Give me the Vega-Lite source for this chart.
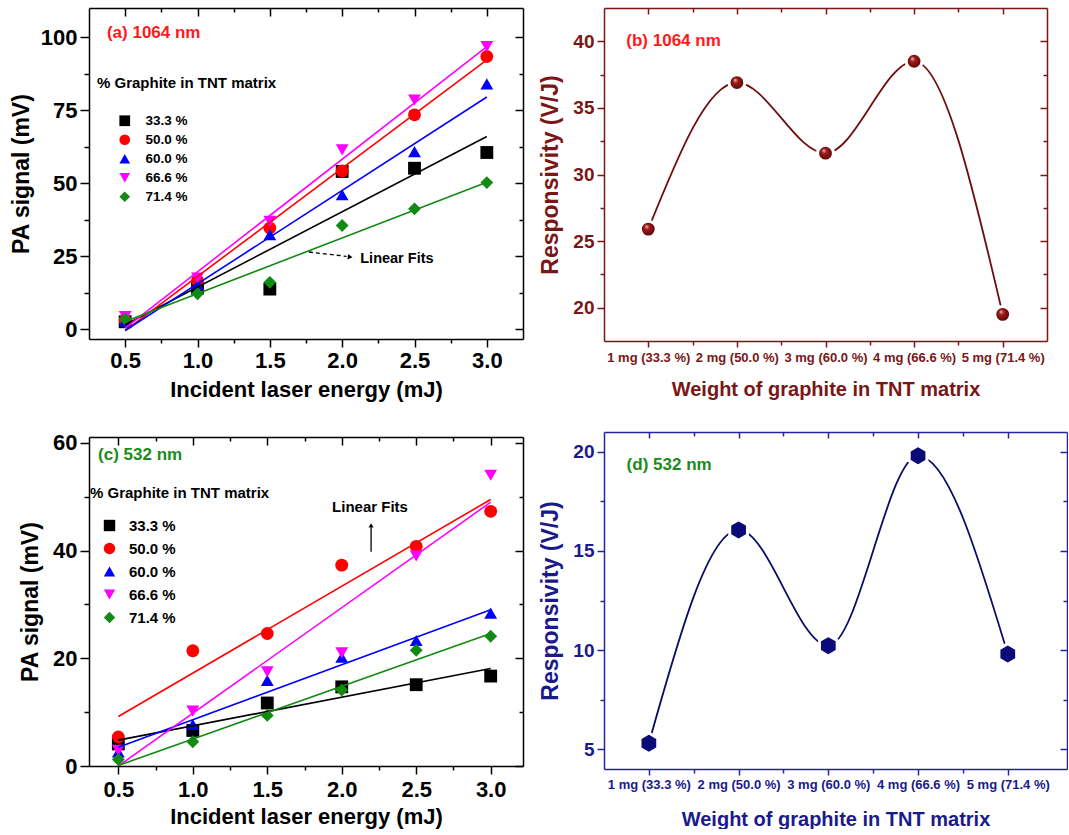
{
  "$schema": "https://vega.github.io/schema/vega-lite/v6.json",
  "padding": {"left": 10, "top": 7, "right": 0, "bottom": 0},
  "config": {
    "font": "Liberation Sans",
    "view": {"stroke": null},
    "axis": {"grid": false, "labelFont": "Liberation Sans", "titleFont": "Liberation Sans", "labelFontWeight": "bold", "titleFontWeight": "bold", "labelFlush": false, "labelOverlap": false, "domainWidth": 1.5, "tickWidth": 1.5}
  },
  "datasets": {
    "ptsA": [
      {"energy": 0.5, "signal": 2.5, "series": "33.3 %"}, {"energy": 1.0, "signal": 14.0, "series": "33.3 %"}, {"energy": 1.5, "signal": 13.7, "series": "33.3 %"}, {"energy": 2.0, "signal": 54.0, "series": "33.3 %"}, {"energy": 2.5, "signal": 55.1, "series": "33.3 %"}, {"energy": 3.0, "signal": 60.5, "series": "33.3 %"},
      {"energy": 0.5, "signal": 3.0, "series": "50.0 %"}, {"energy": 1.0, "signal": 16.6, "series": "50.0 %"}, {"energy": 1.5, "signal": 34.6, "series": "50.0 %"}, {"energy": 2.0, "signal": 54.2, "series": "50.0 %"}, {"energy": 2.5, "signal": 73.4, "series": "50.0 %"}, {"energy": 3.0, "signal": 93.4, "series": "50.0 %"},
      {"energy": 0.5, "signal": 2.8, "series": "60.0 %"}, {"energy": 1.0, "signal": 15.2, "series": "60.0 %"}, {"energy": 1.5, "signal": 32.3, "series": "60.0 %"}, {"energy": 2.0, "signal": 46.0, "series": "60.0 %"}, {"energy": 2.5, "signal": 60.8, "series": "60.0 %"}, {"energy": 3.0, "signal": 84.0, "series": "60.0 %"},
      {"energy": 0.5, "signal": 4.3, "series": "66.6 %"}, {"energy": 1.0, "signal": 17.5, "series": "66.6 %"}, {"energy": 1.5, "signal": 36.9, "series": "66.6 %"}, {"energy": 2.0, "signal": 61.4, "series": "66.6 %"}, {"energy": 2.5, "signal": 78.5, "series": "66.6 %"}, {"energy": 3.0, "signal": 96.8, "series": "66.6 %"},
      {"energy": 0.5, "signal": 3.4, "series": "71.4 %"}, {"energy": 1.0, "signal": 12.1, "series": "71.4 %"}, {"energy": 1.5, "signal": 16.0, "series": "71.4 %"}, {"energy": 2.0, "signal": 35.5, "series": "71.4 %"}, {"energy": 2.5, "signal": 41.2, "series": "71.4 %"}, {"energy": 3.0, "signal": 50.2, "series": "71.4 %"}
    ],
    "fitA": [
      {"energy": 0.5, "signal": 1.5, "series": "33.3 %"}, {"energy": 3.0, "signal": 66.0, "series": "33.3 %"},
      {"energy": 0.5, "signal": -0.5, "series": "50.0 %"}, {"energy": 3.0, "signal": 92.2, "series": "50.0 %"},
      {"energy": 0.5, "signal": -0.5, "series": "60.0 %"}, {"energy": 3.0, "signal": 79.5, "series": "60.0 %"},
      {"energy": 0.5, "signal": 0.3, "series": "66.6 %"}, {"energy": 3.0, "signal": 96.8, "series": "66.6 %"},
      {"energy": 0.5, "signal": 2.6, "series": "71.4 %"}, {"energy": 3.0, "signal": 50.3, "series": "71.4 %"}
    ],
    "ptsC": [
      {"energy": 0.5, "signal": 4.1, "series": "33.3 %"}, {"energy": 1.0, "signal": 6.6, "series": "33.3 %"}, {"energy": 1.5, "signal": 11.7, "series": "33.3 %"}, {"energy": 2.0, "signal": 14.7, "series": "33.3 %"}, {"energy": 2.5, "signal": 15.1, "series": "33.3 %"}, {"energy": 3.0, "signal": 16.7, "series": "33.3 %"},
      {"energy": 0.5, "signal": 5.4, "series": "50.0 %"}, {"energy": 1.0, "signal": 21.4, "series": "50.0 %"}, {"energy": 1.5, "signal": 24.6, "series": "50.0 %"}, {"energy": 2.0, "signal": 37.3, "series": "50.0 %"}, {"energy": 2.5, "signal": 40.8, "series": "50.0 %"}, {"energy": 3.0, "signal": 47.3, "series": "50.0 %"},
      {"energy": 0.5, "signal": 2.6, "series": "60.0 %"}, {"energy": 1.0, "signal": 7.7, "series": "60.0 %"}, {"energy": 1.5, "signal": 15.9, "series": "60.0 %"}, {"energy": 2.0, "signal": 20.2, "series": "60.0 %"}, {"energy": 2.5, "signal": 23.3, "series": "60.0 %"}, {"energy": 3.0, "signal": 28.4, "series": "60.0 %"},
      {"energy": 0.5, "signal": 2.9, "series": "66.6 %"}, {"energy": 1.0, "signal": 10.2, "series": "66.6 %"}, {"energy": 1.5, "signal": 17.5, "series": "66.6 %"}, {"energy": 2.0, "signal": 21.0, "series": "66.6 %"}, {"energy": 2.5, "signal": 39.0, "series": "66.6 %"}, {"energy": 3.0, "signal": 54.0, "series": "66.6 %"},
      {"energy": 0.5, "signal": 1.2, "series": "71.4 %"}, {"energy": 1.0, "signal": 4.5, "series": "71.4 %"}, {"energy": 1.5, "signal": 9.4, "series": "71.4 %"}, {"energy": 2.0, "signal": 14.1, "series": "71.4 %"}, {"energy": 2.5, "signal": 21.5, "series": "71.4 %"}, {"energy": 3.0, "signal": 24.1, "series": "71.4 %"}
    ],
    "fitC": [
      {"energy": 0.5, "signal": 4.8, "series": "33.3 %"}, {"energy": 3.0, "signal": 18.1, "series": "33.3 %"},
      {"energy": 0.5, "signal": 9.2, "series": "50.0 %"}, {"energy": 3.0, "signal": 49.5, "series": "50.0 %"},
      {"energy": 0.5, "signal": 3.5, "series": "60.0 %"}, {"energy": 3.0, "signal": 29.0, "series": "60.0 %"},
      {"energy": 0.5, "signal": 0.0, "series": "66.6 %"}, {"energy": 3.0, "signal": 49.0, "series": "66.6 %"},
      {"energy": 0.5, "signal": 0.1, "series": "71.4 %"}, {"energy": 3.0, "signal": 24.6, "series": "71.4 %"}
    ],
    "respB": [
      {"weight": 1, "resp": 25.9}, {"weight": 2, "resp": 36.9}, {"weight": 3, "resp": 31.6}, {"weight": 4, "resp": 38.5}, {"weight": 5, "resp": 19.5}
    ],
    "respD": [
      {"weight": 1, "resp": 5.3}, {"weight": 2, "resp": 16.06}, {"weight": 3, "resp": 10.22}, {"weight": 4, "resp": 19.8}, {"weight": 5, "resp": 9.8}
    ]
  },
  "resolve": {"scale": {"x": "independent", "y": "independent", "color": "independent", "shape": "independent", "stroke": "independent"}},
  "columns": 2,
  "align": "none",
  "spacing": {"row": 31, "column": 15},
  "concat": [
        {
          "width": 434, "height": 331,
          "resolve": {"axis": {"x": "independent", "y": "independent"}},
          "layer": [
            {
              "data": {"name": "ptsA"},
              "mark": {"type": "point", "filled": true, "size": 165, "opacity": 1},
              "encoding": {
                "x": {"field": "energy", "type": "quantitative", "scale": {"domain": [0.25, 3.25], "nice": false, "zero": false},
                  "axis": {"orient": "bottom", "title": "Incident laser energy (mJ)", "values": [0.5, 0.75, 1, 1.25, 1.5, 1.75, 2, 2.25, 2.5, 2.75, 3],
                    "labelExpr": "round(datum.value*2) == datum.value*2 ? format(datum.value, '.1f') : ''",
                    "tickSize": {"condition": {"test": "round(datum.value*2) == datum.value*2", "value": 8}, "value": 4},
                    "domainColor": "#000", "tickColor": "#000", "labelColor": "#000", "titleColor": "#000", "labelFontSize": 22, "titleFontSize": 22, "labelPadding": 3, "titlePadding": 8}},
                "y": {"field": "signal", "type": "quantitative", "scale": {"domain": [-3.4, 110], "nice": false, "zero": false},
                  "axis": {"orient": "left", "title": "PA signal (mV)", "values": [0, 12.5, 25, 37.5, 50, 62.5, 75, 87.5, 100],
                    "labelExpr": "datum.value % 25 == 0 ? datum.label : ''",
                    "tickSize": {"condition": {"test": "datum.value % 25 == 0", "value": 9}, "value": 5},
                    "domainColor": "#000", "tickColor": "#000", "labelColor": "#000", "titleColor": "#000", "labelFontSize": 22, "titleFontSize": 23, "labelPadding": 3, "titlePadding": 7}},
                "color": {"field": "series", "type": "nominal", "scale": {"domain": ["33.3 %", "50.0 %", "60.0 %", "66.6 %", "71.4 %"], "range": ["#000000", "#ff0000", "#0000ff", "#ff00ff", "#138a13"]},
                  "legend": {"title": "% Graphite in TNT matrix", "orient": "none", "legendX": 8, "legendY": 68, "direction": "vertical", "titleFontSize": 15, "titleFontWeight": "bold", "titleColor": "#000", "titlePadding": 23, "labelFontSize": 13.5, "labelFontWeight": "bold", "labelColor": "#000", "symbolSize": 115, "symbolOffset": 21, "labelOffset": 14, "rowPadding": 4, "symbolStrokeWidth": 0, "padding": 0}},
                "shape": {"field": "series", "type": "nominal", "scale": {"domain": ["33.3 %", "50.0 %", "60.0 %", "66.6 %", "71.4 %"], "range": ["square", "circle", "triangle-up", "triangle-down", "diamond"]},
                  "legend": {"title": "% Graphite in TNT matrix", "orient": "none", "legendX": 8, "legendY": 68, "direction": "vertical", "titleFontSize": 15, "titleFontWeight": "bold", "titleColor": "#000", "titlePadding": 23, "labelFontSize": 13.5, "labelFontWeight": "bold", "labelColor": "#000", "symbolSize": 115, "symbolOffset": 21, "labelOffset": 14, "rowPadding": 4, "symbolStrokeWidth": 0, "padding": 0}}
              }
            },
            {
              "data": {"name": "fitA"},
              "mark": {"type": "line", "strokeWidth": 1.6},
              "encoding": {
                "x": {"field": "energy", "type": "quantitative", "axis": null},
                "y": {"field": "signal", "type": "quantitative", "axis": null},
                "stroke": {"field": "series", "type": "nominal", "scale": {"domain": ["33.3 %", "50.0 %", "60.0 %", "66.6 %", "71.4 %"], "range": ["#000000", "#ff0000", "#0000ff", "#ff00ff", "#138a13"]}, "legend": null}
              }
            },
            {
              "data": {"name": "fitA"},
              "mark": {"type": "point", "opacity": 0},
              "encoding": {
                "x": {"field": "energy", "type": "quantitative",
                  "axis": {"orient": "top", "title": null, "labels": false, "values": [0.5, 0.75, 1, 1.25, 1.5, 1.75, 2, 2.25, 2.5, 2.75, 3],
                    "tickSize": {"condition": {"test": "round(datum.value*2) == datum.value*2", "value": -8}, "value": -4}, "domainColor": "#000", "tickColor": "#000"}},
                "y": {"field": "signal", "type": "quantitative",
                  "axis": {"orient": "right", "title": null, "labels": false, "values": [0, 12.5, 25, 37.5, 50, 62.5, 75, 87.5, 100],
                    "tickSize": {"condition": {"test": "datum.value % 25 == 0", "value": -8}, "value": -4}, "domainColor": "#000", "tickColor": "#000"}}
              }
            },
            {
              "data": {"values": [{"x": 0.374, "y": 101.4, "text": "(a) 1064 nm"}]},
              "mark": {"type": "text", "align": "left", "baseline": "middle", "fontSize": 17, "fontWeight": "bold", "color": "#ff1a1a"},
              "encoding": {"x": {"field": "x", "type": "quantitative", "axis": null}, "y": {"field": "y", "type": "quantitative", "axis": null}, "text": {"field": "text"}}
            },
            {
              "data": {"values": [{"x": 2.125, "y": 24.0, "text": "Linear Fits"}]},
              "mark": {"type": "text", "align": "left", "baseline": "middle", "fontSize": 14.5, "fontWeight": "bold", "color": "#000"},
              "encoding": {"x": {"field": "x", "type": "quantitative", "axis": null}, "y": {"field": "y", "type": "quantitative", "axis": null}, "text": {"field": "text"}}
            },
            {
              "data": {"values": [{"x": 1.77, "y": 26.4, "x2": 2.03, "y2": 24.9}]},
              "mark": {"type": "rule", "strokeDash": [4, 3], "strokeWidth": 1.3, "color": "#000"},
              "encoding": {"x": {"field": "x", "type": "quantitative", "axis": null}, "y": {"field": "y", "type": "quantitative", "axis": null}, "x2": {"field": "x2"}, "y2": {"field": "y2"}}
            },
            {
              "data": {"values": [{"x": 2.055, "y": 24.7}]},
              "mark": {"type": "point", "shape": "triangle-right", "filled": true, "size": 30, "angle": 7, "color": "#000", "opacity": 1},
              "encoding": {"x": {"field": "x", "type": "quantitative", "axis": null}, "y": {"field": "y", "type": "quantitative", "axis": null}}
            }
          ]
        },
        {
          "width": 443, "height": 333,
          "resolve": {"axis": {"x": "independent", "y": "independent"}},
          "layer": [
            {
              "data": {"name": "respB"},
              "mark": {"type": "line", "interpolate": "monotone", "strokeWidth": 1.8, "color": "#6e0f0f"},
              "encoding": {
                "x": {"field": "weight", "type": "quantitative", "scale": {"domain": [0.5, 5.5], "nice": false, "zero": false},
                  "axis": {"orient": "bottom", "title": "Weight of graphite in TNT matrix", "values": [1, 1.5, 2, 2.5, 3, 3.5, 4, 4.5, 5],
                    "labelExpr": "datum.value % 1 == 0 ? ['', '1 mg (33.3 %)', '2 mg (50.0 %)', '3 mg (60.0 %)', '4 mg (66.6 %)', '5 mg (71.4 %)'][datum.value] : ''",
                    "tickSize": {"condition": {"test": "datum.value % 1 == 0", "value": 6}, "value": 4},
                    "domainColor": "#7a1616", "tickColor": "#7a1616", "labelColor": "#7a1616", "titleColor": "#7a1616", "labelFontSize": 13, "titleFontSize": 20, "labelPadding": 4, "titlePadding": 15}},
                "y": {"field": "resp", "type": "quantitative", "scale": {"domain": [17.5, 42.5], "nice": false, "zero": false},
                  "axis": {"orient": "left", "title": "Responsivity (V/J)", "values": [20, 22.5, 25, 27.5, 30, 32.5, 35, 37.5, 40],
                    "labelExpr": "datum.value % 5 == 0 ? datum.label : ''",
                    "tickSize": {"condition": {"test": "datum.value % 5 == 0", "value": 7}, "value": 4},
                    "domainColor": "#7a1616", "tickColor": "#7a1616", "labelColor": "#7a1616", "titleColor": "#7a1616", "labelFontSize": 19, "titleFontSize": 23, "labelPadding": 3, "titlePadding": 10}}
              }
            },
            {
              "data": {"name": "respB"},
              "mark": {"type": "point", "filled": true, "size": 250, "stroke": "#ffffff", "strokeWidth": 3, "opacity": 1,
                "fill": {"gradient": "radial", "x1": 0.38, "y1": 0.32, "r1": 0, "x2": 0.5, "y2": 0.5, "r2": 0.5, "stops": [{"offset": 0, "color": "#f4d0d0"}, {"offset": 0.3, "color": "#a51c1c"}, {"offset": 1, "color": "#4a0404"}]}},
              "encoding": {
                "x": {"field": "weight", "type": "quantitative", "axis": null},
                "y": {"field": "resp", "type": "quantitative", "axis": null}
              }
            },
            {
              "data": {"name": "respB"},
              "mark": {"type": "point", "opacity": 0},
              "encoding": {
                "x": {"field": "weight", "type": "quantitative",
                  "axis": {"orient": "top", "title": null, "labels": false, "values": [1, 1.5, 2, 2.5, 3, 3.5, 4, 4.5, 5],
                    "tickSize": {"condition": {"test": "datum.value % 1 == 0", "value": -6}, "value": -4}, "domainColor": "#7a1616", "tickColor": "#7a1616"}},
                "y": {"field": "resp", "type": "quantitative",
                  "axis": {"orient": "right", "title": null, "labels": false, "values": [20, 22.5, 25, 27.5, 30, 32.5, 35, 37.5, 40],
                    "tickSize": {"condition": {"test": "datum.value % 5 == 0", "value": -7}, "value": -4}, "domainColor": "#7a1616", "tickColor": "#7a1616"}}
              }
            },
            {
              "data": {"values": [{"x": 0.752, "y": 40.0, "text": "(b) 1064 nm"}]},
              "mark": {"type": "text", "align": "left", "baseline": "middle", "fontSize": 17, "fontWeight": "bold", "color": "#ff1a1a"},
              "encoding": {"x": {"field": "x", "type": "quantitative", "axis": null}, "y": {"field": "y", "type": "quantitative", "axis": null}, "text": {"field": "text"}}
            }
          ]
        },
        {
          "width": 434, "height": 329,
          "resolve": {"axis": {"x": "independent", "y": "independent"}},
          "layer": [
            {
              "data": {"name": "ptsC"},
              "mark": {"type": "point", "filled": true, "size": 165, "opacity": 1},
              "encoding": {
                "x": {"field": "energy", "type": "quantitative", "scale": {"domain": [0.303, 3.217], "nice": false, "zero": false},
                  "axis": {"orient": "bottom", "title": "Incident laser energy (mJ)", "values": [0.5, 0.75, 1, 1.25, 1.5, 1.75, 2, 2.25, 2.5, 2.75, 3],
                    "labelExpr": "round(datum.value*2) == datum.value*2 ? format(datum.value, '.1f') : ''",
                    "tickSize": {"condition": {"test": "round(datum.value*2) == datum.value*2", "value": 8}, "value": 4},
                    "domainColor": "#000", "tickColor": "#000", "labelColor": "#000", "titleColor": "#000", "labelFontSize": 22, "titleFontSize": 22, "labelPadding": 5, "titlePadding": 6}},
                "y": {"field": "signal", "type": "quantitative", "scale": {"domain": [0, 61.1], "nice": false, "zero": false},
                  "axis": {"orient": "left", "title": "PA signal (mV)", "values": [0, 10, 20, 30, 40, 50, 60],
                    "labelExpr": "datum.value % 20 == 0 ? datum.label : ''",
                    "tickSize": {"condition": {"test": "datum.value % 20 == 0", "value": 9}, "value": 5},
                    "domainColor": "#000", "tickColor": "#000", "labelColor": "#000", "titleColor": "#000", "labelFontSize": 22, "titleFontSize": 23, "labelPadding": 3, "titlePadding": 10}},
                "color": {"field": "series", "type": "nominal", "scale": {"domain": ["33.3 %", "50.0 %", "60.0 %", "66.6 %", "71.4 %"], "range": ["#000000", "#ff0000", "#0000ff", "#ff00ff", "#138a13"]},
                  "legend": {"title": "% Graphite in TNT matrix", "orient": "none", "legendX": 1, "legendY": 49, "direction": "vertical", "titleFontSize": 15, "titleFontWeight": "bold", "titleColor": "#000", "titlePadding": 17, "labelFontSize": 15, "labelFontWeight": "bold", "labelColor": "#000", "symbolSize": 130, "symbolOffset": 12, "labelOffset": 12, "rowPadding": 7, "symbolStrokeWidth": 0, "padding": 0}},
                "shape": {"field": "series", "type": "nominal", "scale": {"domain": ["33.3 %", "50.0 %", "60.0 %", "66.6 %", "71.4 %"], "range": ["square", "circle", "triangle-up", "triangle-down", "diamond"]},
                  "legend": {"title": "% Graphite in TNT matrix", "orient": "none", "legendX": 1, "legendY": 49, "direction": "vertical", "titleFontSize": 15, "titleFontWeight": "bold", "titleColor": "#000", "titlePadding": 17, "labelFontSize": 15, "labelFontWeight": "bold", "labelColor": "#000", "symbolSize": 130, "symbolOffset": 12, "labelOffset": 12, "rowPadding": 7, "symbolStrokeWidth": 0, "padding": 0}}
              }
            },
            {
              "data": {"name": "fitC"},
              "mark": {"type": "line", "strokeWidth": 1.6, "clip": true},
              "encoding": {
                "x": {"field": "energy", "type": "quantitative", "axis": null},
                "y": {"field": "signal", "type": "quantitative", "axis": null},
                "stroke": {"field": "series", "type": "nominal", "scale": {"domain": ["33.3 %", "50.0 %", "60.0 %", "66.6 %", "71.4 %"], "range": ["#000000", "#ff0000", "#0000ff", "#ff00ff", "#138a13"]}, "legend": null}
              }
            },
            {
              "data": {"name": "fitC"},
              "mark": {"type": "point", "opacity": 0},
              "encoding": {
                "x": {"field": "energy", "type": "quantitative",
                  "axis": {"orient": "top", "title": null, "labels": false, "values": [0.5, 0.75, 1, 1.25, 1.5, 1.75, 2, 2.25, 2.5, 2.75, 3],
                    "tickSize": {"condition": {"test": "round(datum.value*2) == datum.value*2", "value": -8}, "value": -4}, "domainColor": "#000", "tickColor": "#000"}},
                "y": {"field": "signal", "type": "quantitative",
                  "axis": {"orient": "right", "title": null, "labels": false, "values": [0, 10, 20, 30, 40, 50, 60],
                    "tickSize": {"condition": {"test": "datum.value % 20 == 0", "value": -8}, "value": -4}, "domainColor": "#000", "tickColor": "#000"}}
              }
            },
            {
              "data": {"values": [{"x": 0.364, "y": 57.7, "text": "(c) 532 nm"}]},
              "mark": {"type": "text", "align": "left", "baseline": "middle", "fontSize": 17, "fontWeight": "bold", "color": "#1a8c1a"},
              "encoding": {"x": {"field": "x", "type": "quantitative", "axis": null}, "y": {"field": "y", "type": "quantitative", "axis": null}, "text": {"field": "text"}}
            },
            {
              "data": {"values": [{"x": 1.935, "y": 48.1, "text": "Linear Fits"}]},
              "mark": {"type": "text", "align": "left", "baseline": "middle", "fontSize": 15, "fontWeight": "bold", "color": "#000"},
              "encoding": {"x": {"field": "x", "type": "quantitative", "axis": null}, "y": {"field": "y", "type": "quantitative", "axis": null}, "text": {"field": "text"}}
            },
            {
              "data": {"values": [{"x": 2.197, "y": 39.8, "x2": 2.197, "y2": 44.3}]},
              "mark": {"type": "rule", "strokeWidth": 1.3, "color": "#000"},
              "encoding": {"x": {"field": "x", "type": "quantitative", "axis": null}, "y": {"field": "y", "type": "quantitative", "axis": null}, "x2": {"field": "x2"}, "y2": {"field": "y2"}}
            },
            {
              "data": {"values": [{"x": 2.197, "y": 44.7}]},
              "mark": {"type": "point", "shape": "triangle-up", "filled": true, "size": 25, "color": "#000", "opacity": 1},
              "encoding": {"x": {"field": "x", "type": "quantitative", "axis": null}, "y": {"field": "y", "type": "quantitative", "axis": null}}
            }
          ]
        },
        {
          "width": 463, "height": 337,
          "resolve": {"axis": {"x": "independent", "y": "independent"}},
          "layer": [
            {
              "data": {"name": "respD"},
              "mark": {"type": "line", "interpolate": "monotone", "strokeWidth": 1.8, "color": "#0c0c66"},
              "encoding": {
                "x": {"field": "weight", "type": "quantitative", "scale": {"domain": [0.5, 5.66], "nice": false, "zero": false},
                  "axis": {"orient": "bottom", "title": "Weight of graphite in TNT matrix", "values": [1, 1.5, 2, 2.5, 3, 3.5, 4, 4.5, 5],
                    "labelExpr": "datum.value % 1 == 0 ? ['', '1 mg (33.3 %)', '2 mg (50.0 %)', '3 mg (60.0 %)', '4 mg (66.6 %)', '5 mg (71.4 %)'][datum.value] : ''",
                    "tickSize": {"condition": {"test": "datum.value % 1 == 0", "value": 6}, "value": 4},
                    "domainColor": "#2424a0", "tickColor": "#2424a0", "labelColor": "#1a1a8a", "titleColor": "#1a1a8a", "labelFontSize": 13, "titleFontSize": 20, "labelPadding": 3, "titlePadding": 18}},
                "y": {"field": "resp", "type": "quantitative", "scale": {"domain": [4, 21], "nice": false, "zero": false},
                  "axis": {"orient": "left", "title": "Responsivity (V/J)", "values": [5, 7.5, 10, 12.5, 15, 17.5, 20],
                    "labelExpr": "datum.value % 5 == 0 ? datum.label : ''",
                    "tickSize": {"condition": {"test": "datum.value % 5 == 0", "value": 7}, "value": 4},
                    "domainColor": "#2424a0", "tickColor": "#2424a0", "labelColor": "#1a1a8a", "titleColor": "#1a1a8a", "labelFontSize": 19, "titleFontSize": 23, "labelPadding": 3, "titlePadding": 10}}
              }
            },
            {
              "data": {"name": "respD"},
              "mark": {"type": "point", "filled": true, "size": 420, "stroke": "#ffffff", "strokeWidth": 3, "opacity": 1, "color": "#0a0a78",
                "shape": "M0,-1L0.866,-0.5L0.866,0.5L0,1L-0.866,0.5L-0.866,-0.5Z"},
              "encoding": {
                "x": {"field": "weight", "type": "quantitative", "axis": null},
                "y": {"field": "resp", "type": "quantitative", "axis": null}
              }
            },
            {
              "data": {"name": "respD"},
              "mark": {"type": "point", "opacity": 0},
              "encoding": {
                "x": {"field": "weight", "type": "quantitative",
                  "axis": {"orient": "top", "title": null, "labels": false, "values": [1, 1.5, 2, 2.5, 3, 3.5, 4, 4.5, 5],
                    "tickSize": {"condition": {"test": "datum.value % 1 == 0", "value": -6}, "value": -4}, "domainColor": "#2424a0", "tickColor": "#2424a0"}},
                "y": {"field": "resp", "type": "quantitative",
                  "axis": {"orient": "right", "title": null, "labels": false, "values": [5, 7.5, 10, 12.5, 15, 17.5, 20],
                    "tickSize": {"condition": {"test": "datum.value % 5 == 0", "value": -7}, "value": -4}, "domainColor": "#2424a0", "tickColor": "#2424a0"}}
              }
            },
            {
              "data": {"values": [{"x": 0.752, "y": 19.36, "text": "(d) 532 nm"}]},
              "mark": {"type": "text", "align": "left", "baseline": "middle", "fontSize": 17, "fontWeight": "bold", "color": "#1a8c1a"},
              "encoding": {"x": {"field": "x", "type": "quantitative", "axis": null}, "y": {"field": "y", "type": "quantitative", "axis": null}, "text": {"field": "text"}}
            }
          ]
        }
  ]
}
